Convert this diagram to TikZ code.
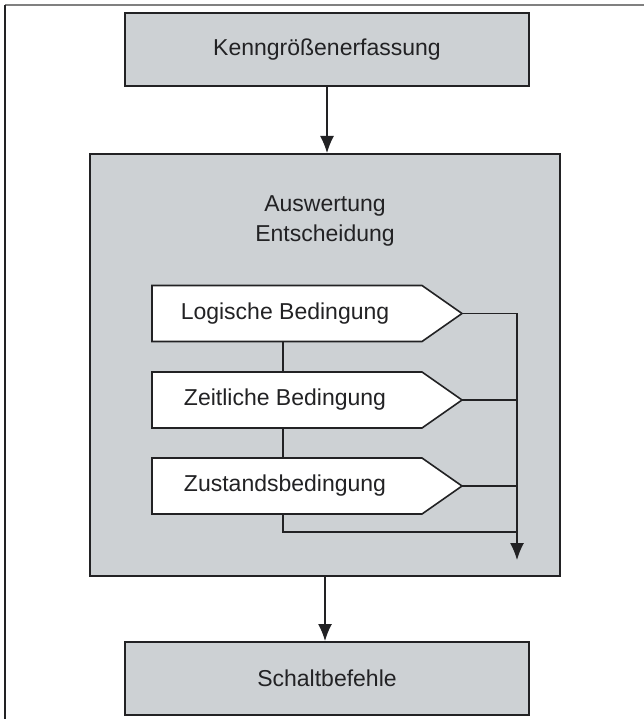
\documentclass[tikz,border=0pt]{standalone}
\usepackage{fontspec}
\setmainfont{Liberation Sans}
\usepackage{tikz}
\usetikzlibrary{arrows.meta,positioning,calc}

\definecolor{boxgray}{RGB}{205,209,212}
\definecolor{linedark}{RGB}{34,34,36}

\tikzset{
  graybox/.style={draw=linedark,line width=2pt,fill=boxgray,inner sep=0pt},
  condbox/.style={draw=linedark,line width=1.6pt,fill=white},
  link/.style={draw=linedark,line width=1.3pt},
  flow/.style={link,-{Latex[length=17pt,width=14pt]}}
}

\begin{document}
\begin{tikzpicture}[x=1pt,y=-1pt,font=\fontsize{23}{30}\selectfont,text=linedark]
    \useasboundingbox (0,0) rectangle (644,719);
    % frame
    \draw[gray,line width=1.2pt] (5,5) -- (644,5);
    \draw[linedark,line width=1.4pt] (5,5) -- (5,719);
    % main blocks
    \node[graybox,minimum width=404pt,minimum height=73pt] (kg) at (327,49.5) {Kenngrößenerfassung};
    \node[graybox,minimum width=470pt,minimum height=422pt] (aw) at (325,365) {};
    \node[graybox,minimum width=404pt,minimum height=73pt] (sbf) at (327,678.5) {Schaltbefehle};
    \node[align=center] (aw-label) at (325,221) {Auswertung\\Entscheidung};
    \draw[flow] (kg.south) -- (kg.south |- aw.north);
    \draw[flow] (aw.south) -- (aw.south |- sbf.north);
    % conditions
    \foreach \name/\txt/\y in {lb/Logische Bedingung/313.5,zb/Zeitliche Bedingung/400,sb/Zustandsbedingung/486} {
      \draw[condbox] (152,\y-28) -- (422,\y-28) -- (462,\y) -- (422,\y+28) -- (152,\y+28) -- cycle;
      \node (\name) at (285,\y) {\txt};
      \coordinate (\name-tip) at (462,\y);
      \coordinate (\name-top) at (283,\y-28);
      \coordinate (\name-bot) at (283,\y+28);
    }
    \coordinate (bus-top) at (517,313.5);
    \coordinate (bus-end) at (517,560);
    \coordinate (sb-turn) at (283,532);
    \draw[link] (lb-bot) -- (zb-top);
    \draw[link] (zb-bot) -- (sb-top);
    \draw[link] (sb-bot) -- (sb-turn) -- (sb-turn -| bus-top);
    \draw[link] (zb-tip) -- (zb-tip -| bus-top);
    \draw[link] (sb-tip) -- (sb-tip -| bus-top);
    \draw[flow] (lb-tip) -- (bus-top) -- (bus-end);
\end{tikzpicture}
\end{document}
